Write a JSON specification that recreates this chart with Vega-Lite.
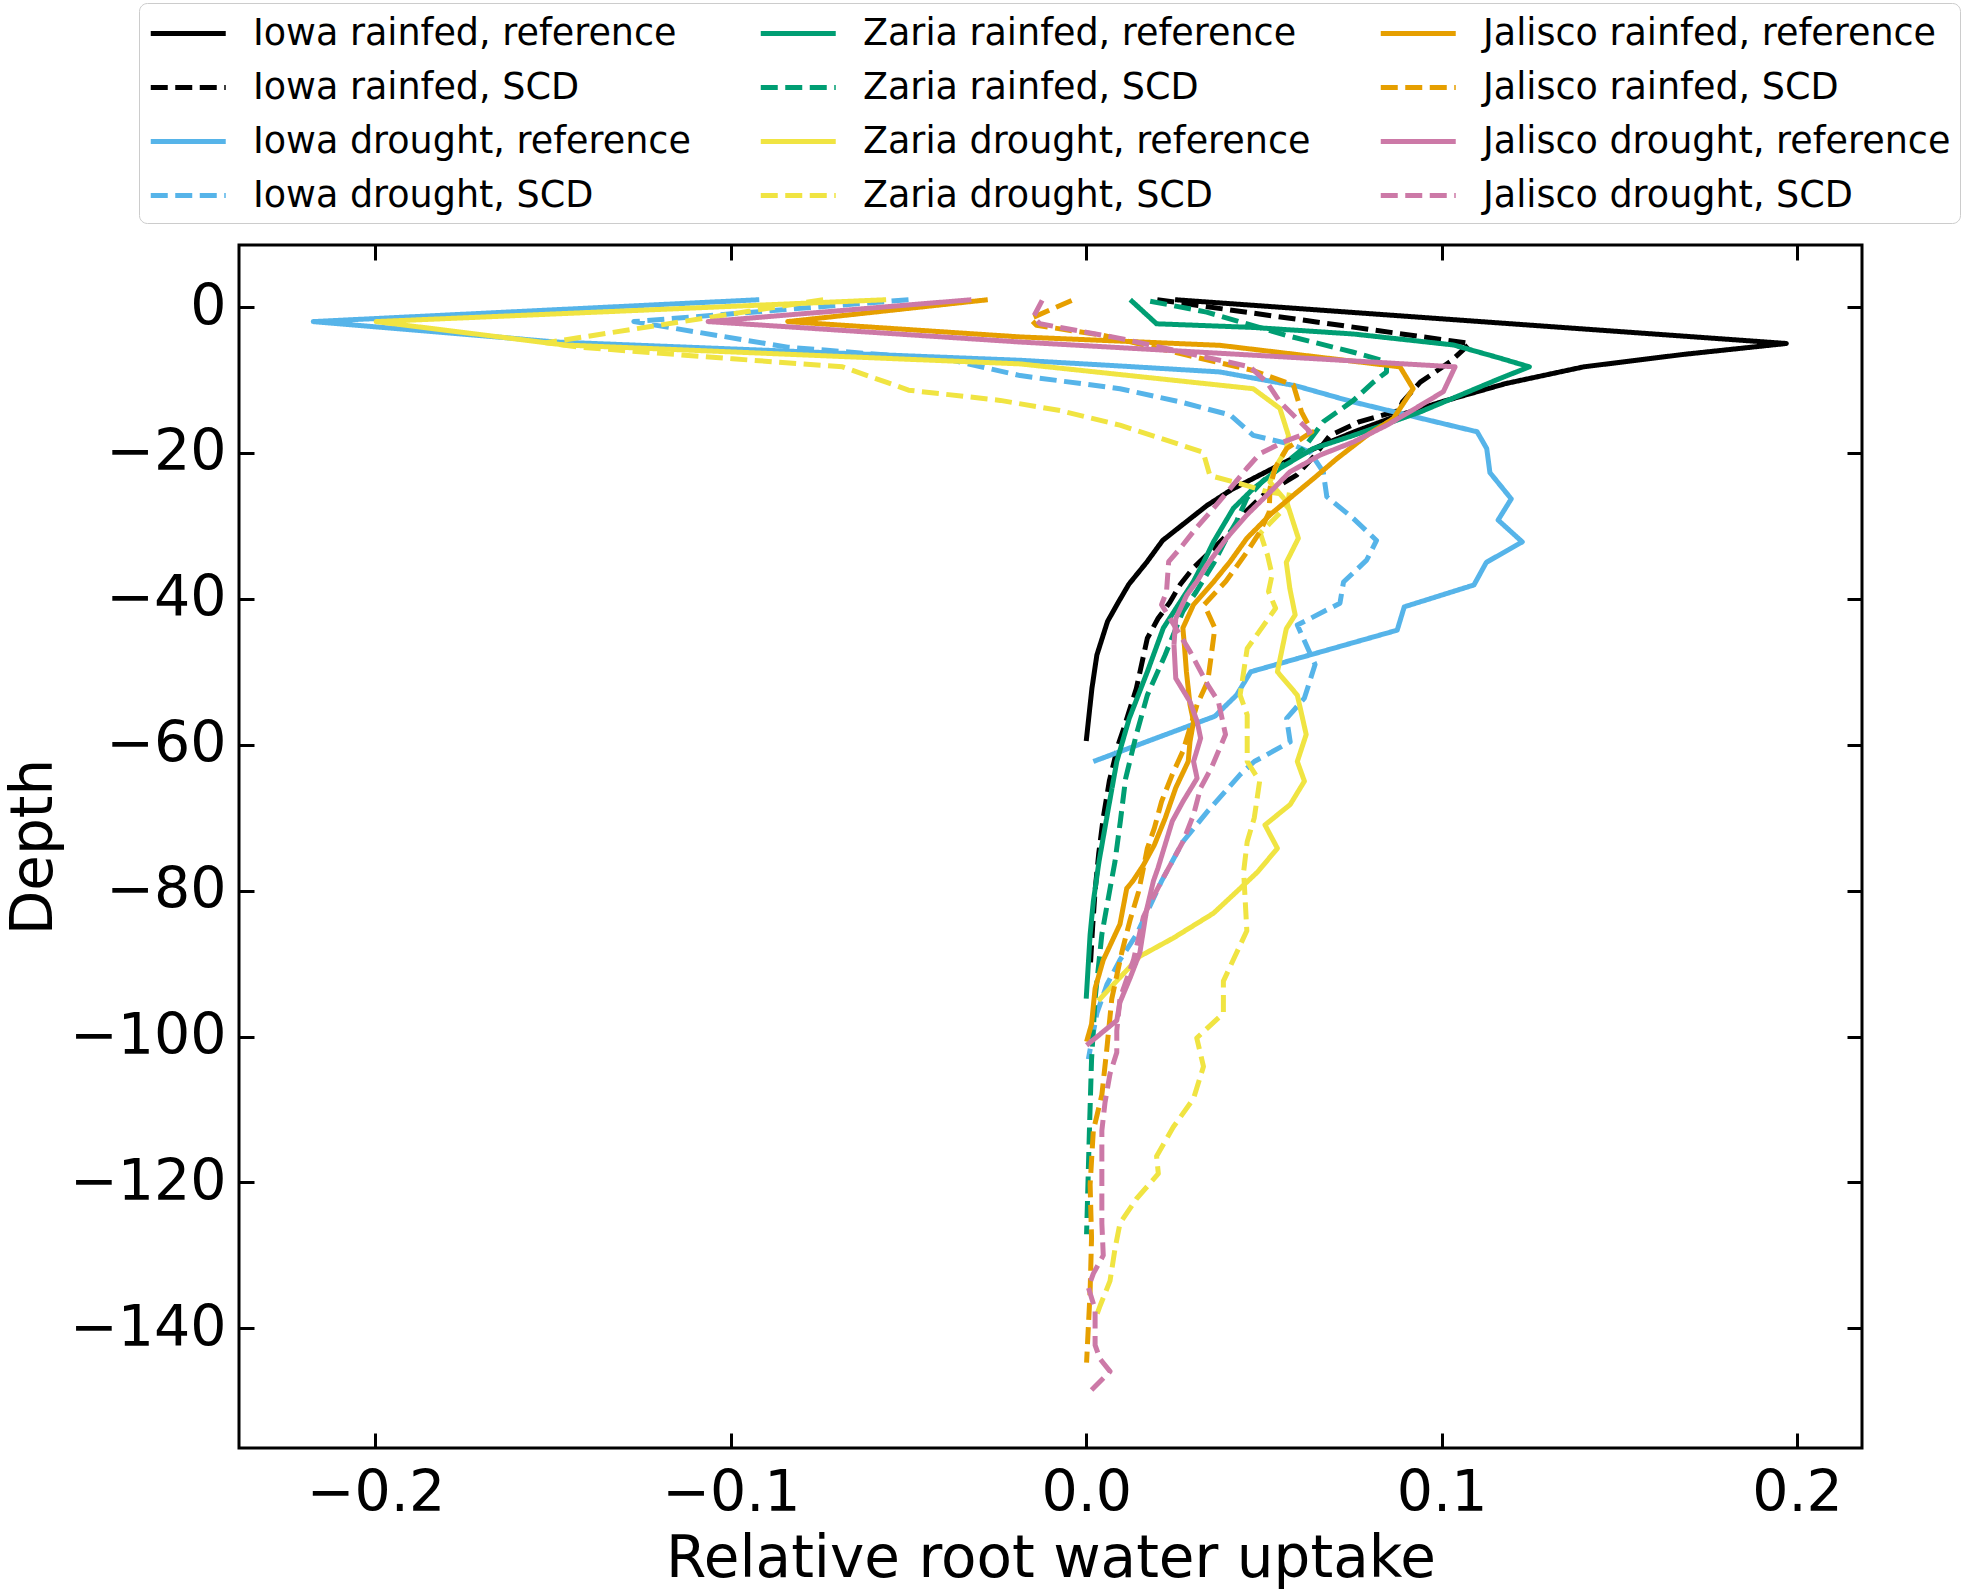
{
  "$schema": "https://vega.github.io/schema/vega-lite/v6.json",
  "width": 1623,
  "height": 1203,
  "autosize": {"type": "none"},
  "padding": {"left": 239, "top": 245, "right": 107, "bottom": 142},
  "background": "white",
  "config": {
    "font": "DejaVu Sans",
    "view": {"stroke": "black", "strokeWidth": 3},
    "axis": {
      "grid": false, "domain": false,
      "tickColor": "black", "tickWidth": 3, "tickSize": -15,
      "labelFont": "DejaVu Sans", "labelFontSize": 57, "labelColor": "black",
      "titleFont": "DejaVu Sans", "titleFontSize": 58, "titleFontWeight": "normal", "titleColor": "black"
    },
    "legend": {
      "orient": "none", "legendX": -100, "legendY": -242,
      "columns": 3, "symbolType": "M-1,0H3", "symbolSize": 1406, "symbolStrokeWidth": 5,
      "labelFont": "DejaVu Sans", "labelFontSize": 36.5, "labelColor": "black", "labelLimit": 0,
      "labelOffset": 62, "columnPadding": 59, "rowPadding": 14, "padding": 9,
      "fillColor": "white", "strokeColor": "#cccccc", "cornerRadius": 8
    }
  },
  "data": {"values": [
    {"s":"Iowa rainfed, reference","i":0,"x":0.025,"y":1},
    {"s":"Iowa rainfed, reference","i":1,"x":0.197,"y":-5},
    {"s":"Iowa rainfed, reference","i":2,"x":0.168,"y":-6.5},
    {"s":"Iowa rainfed, reference","i":3,"x":0.140,"y":-8.2},
    {"s":"Iowa rainfed, reference","i":4,"x":0.118,"y":-10.5},
    {"s":"Iowa rainfed, reference","i":5,"x":0.100,"y":-13},
    {"s":"Iowa rainfed, reference","i":6,"x":0.087,"y":-15},
    {"s":"Iowa rainfed, reference","i":7,"x":0.076,"y":-17},
    {"s":"Iowa rainfed, reference","i":8,"x":0.066,"y":-19},
    {"s":"Iowa rainfed, reference","i":9,"x":0.057,"y":-21},
    {"s":"Iowa rainfed, reference","i":10,"x":0.049,"y":-23},
    {"s":"Iowa rainfed, reference","i":11,"x":0.041,"y":-25},
    {"s":"Iowa rainfed, reference","i":12,"x":0.034,"y":-27.2},
    {"s":"Iowa rainfed, reference","i":13,"x":0.028,"y":-29.5},
    {"s":"Iowa rainfed, reference","i":14,"x":0.0215,"y":-32},
    {"s":"Iowa rainfed, reference","i":15,"x":0.017,"y":-35},
    {"s":"Iowa rainfed, reference","i":16,"x":0.012,"y":-38},
    {"s":"Iowa rainfed, reference","i":17,"x":0.009,"y":-40.5},
    {"s":"Iowa rainfed, reference","i":18,"x":0.006,"y":-43.1},
    {"s":"Iowa rainfed, reference","i":19,"x":0.003,"y":-47.7},
    {"s":"Iowa rainfed, reference","i":20,"x":0.0016,"y":-52.3},
    {"s":"Iowa rainfed, reference","i":21,"x":0.0006,"y":-56.8},
    {"s":"Iowa rainfed, reference","i":22,"x":0.0,"y":-59.5},

    {"s":"Iowa rainfed, SCD","i":0,"x":0.02,"y":1},
    {"s":"Iowa rainfed, SCD","i":1,"x":0.108,"y":-5},
    {"s":"Iowa rainfed, SCD","i":2,"x":0.1024,"y":-7.5},
    {"s":"Iowa rainfed, SCD","i":3,"x":0.094,"y":-10.3},
    {"s":"Iowa rainfed, SCD","i":4,"x":0.089,"y":-13},
    {"s":"Iowa rainfed, SCD","i":5,"x":0.088,"y":-14.2},
    {"s":"Iowa rainfed, SCD","i":6,"x":0.077,"y":-15.7},
    {"s":"Iowa rainfed, SCD","i":7,"x":0.0686,"y":-17.6},
    {"s":"Iowa rainfed, SCD","i":8,"x":0.064,"y":-20.5},
    {"s":"Iowa rainfed, SCD","i":9,"x":0.0593,"y":-23},
    {"s":"Iowa rainfed, SCD","i":10,"x":0.0498,"y":-25.8},
    {"s":"Iowa rainfed, SCD","i":11,"x":0.045,"y":-28},
    {"s":"Iowa rainfed, SCD","i":12,"x":0.0414,"y":-30.4},
    {"s":"Iowa rainfed, SCD","i":13,"x":0.0358,"y":-33.1},
    {"s":"Iowa rainfed, SCD","i":14,"x":0.0301,"y":-35.8},
    {"s":"Iowa rainfed, SCD","i":15,"x":0.0265,"y":-38},
    {"s":"Iowa rainfed, SCD","i":16,"x":0.0235,"y":-40.5},
    {"s":"Iowa rainfed, SCD","i":17,"x":0.0202,"y":-42.7},
    {"s":"Iowa rainfed, SCD","i":18,"x":0.0172,"y":-45.4},
    {"s":"Iowa rainfed, SCD","i":19,"x":0.0141,"y":-52.3},
    {"s":"Iowa rainfed, SCD","i":20,"x":0.0106,"y":-57.7},
    {"s":"Iowa rainfed, SCD","i":21,"x":0.009,"y":-60},
    {"s":"Iowa rainfed, SCD","i":22,"x":0.0065,"y":-65},
    {"s":"Iowa rainfed, SCD","i":23,"x":0.0048,"y":-70},
    {"s":"Iowa rainfed, SCD","i":24,"x":0.0035,"y":-75},
    {"s":"Iowa rainfed, SCD","i":25,"x":0.0025,"y":-80},
    {"s":"Iowa rainfed, SCD","i":26,"x":0.0018,"y":-85},
    {"s":"Iowa rainfed, SCD","i":27,"x":0.0012,"y":-90},

    {"s":"Iowa drought, reference","i":0,"x":-0.092,"y":1},
    {"s":"Iowa drought, reference","i":1,"x":-0.2175,"y":-2},
    {"s":"Iowa drought, reference","i":2,"x":-0.149,"y":-4.8},
    {"s":"Iowa drought, reference","i":3,"x":-0.0186,"y":-7.3},
    {"s":"Iowa drought, reference","i":4,"x":0.0066,"y":-8.0},
    {"s":"Iowa drought, reference","i":5,"x":0.0376,"y":-8.9},
    {"s":"Iowa drought, reference","i":6,"x":0.059,"y":-10.8},
    {"s":"Iowa drought, reference","i":7,"x":0.075,"y":-13},
    {"s":"Iowa drought, reference","i":8,"x":0.092,"y":-15},
    {"s":"Iowa drought, reference","i":9,"x":0.110,"y":-17.1},
    {"s":"Iowa drought, reference","i":10,"x":0.1127,"y":-19.4},
    {"s":"Iowa drought, reference","i":11,"x":0.1136,"y":-22.7},
    {"s":"Iowa drought, reference","i":12,"x":0.1196,"y":-26.3},
    {"s":"Iowa drought, reference","i":13,"x":0.1159,"y":-29.2},
    {"s":"Iowa drought, reference","i":14,"x":0.1227,"y":-32.2},
    {"s":"Iowa drought, reference","i":15,"x":0.1126,"y":-35},
    {"s":"Iowa drought, reference","i":16,"x":0.1091,"y":-38.1},
    {"s":"Iowa drought, reference","i":17,"x":0.0895,"y":-41.1},
    {"s":"Iowa drought, reference","i":18,"x":0.0875,"y":-44.3},
    {"s":"Iowa drought, reference","i":19,"x":0.0463,"y":-50},
    {"s":"Iowa drought, reference","i":20,"x":0.0423,"y":-53.2},
    {"s":"Iowa drought, reference","i":21,"x":0.0362,"y":-56.1},
    {"s":"Iowa drought, reference","i":22,"x":0.002,"y":-62.3},

    {"s":"Iowa drought, SCD","i":0,"x":-0.050,"y":1},
    {"s":"Iowa drought, SCD","i":1,"x":-0.1273,"y":-2},
    {"s":"Iowa drought, SCD","i":2,"x":-0.084,"y":-5.5},
    {"s":"Iowa drought, SCD","i":3,"x":-0.0377,"y":-7.3},
    {"s":"Iowa drought, SCD","i":4,"x":-0.0186,"y":-9.4},
    {"s":"Iowa drought, SCD","i":5,"x":0.0095,"y":-11.2},
    {"s":"Iowa drought, SCD","i":6,"x":0.0264,"y":-13},
    {"s":"Iowa drought, SCD","i":7,"x":0.0405,"y":-14.8},
    {"s":"Iowa drought, SCD","i":8,"x":0.047,"y":-17.6},
    {"s":"Iowa drought, SCD","i":9,"x":0.0583,"y":-18.9},
    {"s":"Iowa drought, SCD","i":10,"x":0.063,"y":-19.9},
    {"s":"Iowa drought, SCD","i":11,"x":0.0667,"y":-22.6},
    {"s":"Iowa drought, SCD","i":12,"x":0.0677,"y":-26},
    {"s":"Iowa drought, SCD","i":13,"x":0.0752,"y":-29},
    {"s":"Iowa drought, SCD","i":14,"x":0.0817,"y":-32},
    {"s":"Iowa drought, SCD","i":15,"x":0.0789,"y":-34.7},
    {"s":"Iowa drought, SCD","i":16,"x":0.0724,"y":-37.7},
    {"s":"Iowa drought, SCD","i":17,"x":0.0714,"y":-40.6},
    {"s":"Iowa drought, SCD","i":18,"x":0.0594,"y":-43.6},
    {"s":"Iowa drought, SCD","i":19,"x":0.0644,"y":-49},
    {"s":"Iowa drought, SCD","i":20,"x":0.0614,"y":-53.6},
    {"s":"Iowa drought, SCD","i":21,"x":0.0564,"y":-56.4},
    {"s":"Iowa drought, SCD","i":22,"x":0.0574,"y":-59.6},
    {"s":"Iowa drought, SCD","i":23,"x":0.0473,"y":-62.3},
    {"s":"Iowa drought, SCD","i":24,"x":0.0433,"y":-64.1},
    {"s":"Iowa drought, SCD","i":25,"x":0.0342,"y":-69.1},
    {"s":"Iowa drought, SCD","i":26,"x":0.0272,"y":-73.3},
    {"s":"Iowa drought, SCD","i":27,"x":0.0212,"y":-78.7},
    {"s":"Iowa drought, SCD","i":28,"x":0.0142,"y":-86},
    {"s":"Iowa drought, SCD","i":29,"x":0.0095,"y":-89.5},
    {"s":"Iowa drought, SCD","i":30,"x":0.0058,"y":-92.9},
    {"s":"Iowa drought, SCD","i":31,"x":0.003,"y":-96.8},
    {"s":"Iowa drought, SCD","i":32,"x":0.0006,"y":-103.1},

    {"s":"Zaria rainfed, reference","i":0,"x":0.0124,"y":1},
    {"s":"Zaria rainfed, reference","i":1,"x":0.0198,"y":-2.3},
    {"s":"Zaria rainfed, reference","i":2,"x":0.047,"y":-2.8},
    {"s":"Zaria rainfed, reference","i":3,"x":0.0752,"y":-3.7},
    {"s":"Zaria rainfed, reference","i":4,"x":0.1033,"y":-5.2},
    {"s":"Zaria rainfed, reference","i":5,"x":0.1164,"y":-7},
    {"s":"Zaria rainfed, reference","i":6,"x":0.1247,"y":-8.2},
    {"s":"Zaria rainfed, reference","i":7,"x":0.1164,"y":-9.8},
    {"s":"Zaria rainfed, reference","i":8,"x":0.0939,"y":-14.4},
    {"s":"Zaria rainfed, reference","i":9,"x":0.0752,"y":-17.6},
    {"s":"Zaria rainfed, reference","i":10,"x":0.0639,"y":-19.4},
    {"s":"Zaria rainfed, reference","i":11,"x":0.0545,"y":-22.1},
    {"s":"Zaria rainfed, reference","i":12,"x":0.047,"y":-24.9},
    {"s":"Zaria rainfed, reference","i":13,"x":0.0414,"y":-27.6},
    {"s":"Zaria rainfed, reference","i":14,"x":0.0358,"y":-32.2},
    {"s":"Zaria rainfed, reference","i":15,"x":0.033,"y":-35},
    {"s":"Zaria rainfed, reference","i":16,"x":0.0302,"y":-37.6},
    {"s":"Zaria rainfed, reference","i":17,"x":0.0217,"y":-44},
    {"s":"Zaria rainfed, reference","i":18,"x":0.0172,"y":-50},
    {"s":"Zaria rainfed, reference","i":19,"x":0.0121,"y":-56.4},
    {"s":"Zaria rainfed, reference","i":20,"x":0.0086,"y":-62.3},
    {"s":"Zaria rainfed, reference","i":21,"x":0.0061,"y":-69.1},
    {"s":"Zaria rainfed, reference","i":22,"x":0.0036,"y":-76},
    {"s":"Zaria rainfed, reference","i":23,"x":0.002,"y":-81.5},
    {"s":"Zaria rainfed, reference","i":24,"x":0.0011,"y":-86},
    {"s":"Zaria rainfed, reference","i":25,"x":0.0006,"y":-90},
    {"s":"Zaria rainfed, reference","i":26,"x":0.0,"y":-94.8},

    {"s":"Zaria rainfed, SCD","i":0,"x":0.018,"y":0.8},
    {"s":"Zaria rainfed, SCD","i":1,"x":0.0339,"y":-0.7},
    {"s":"Zaria rainfed, SCD","i":2,"x":0.0564,"y":-3.9},
    {"s":"Zaria rainfed, SCD","i":3,"x":0.0752,"y":-6.2},
    {"s":"Zaria rainfed, SCD","i":4,"x":0.0845,"y":-7.5},
    {"s":"Zaria rainfed, SCD","i":5,"x":0.0845,"y":-8.9},
    {"s":"Zaria rainfed, SCD","i":6,"x":0.0808,"y":-10.3},
    {"s":"Zaria rainfed, SCD","i":7,"x":0.0752,"y":-12.8},
    {"s":"Zaria rainfed, SCD","i":8,"x":0.0668,"y":-15.7},
    {"s":"Zaria rainfed, SCD","i":9,"x":0.0611,"y":-19.4},
    {"s":"Zaria rainfed, SCD","i":10,"x":0.0545,"y":-22},
    {"s":"Zaria rainfed, SCD","i":11,"x":0.0498,"y":-23.8},
    {"s":"Zaria rainfed, SCD","i":12,"x":0.0452,"y":-26.2},
    {"s":"Zaria rainfed, SCD","i":13,"x":0.0423,"y":-29.4},
    {"s":"Zaria rainfed, SCD","i":14,"x":0.0395,"y":-31.7},
    {"s":"Zaria rainfed, SCD","i":15,"x":0.036,"y":-35},
    {"s":"Zaria rainfed, SCD","i":16,"x":0.031,"y":-39},
    {"s":"Zaria rainfed, SCD","i":17,"x":0.0272,"y":-41.7},
    {"s":"Zaria rainfed, SCD","i":18,"x":0.0222,"y":-47.7},
    {"s":"Zaria rainfed, SCD","i":19,"x":0.0172,"y":-53.2},
    {"s":"Zaria rainfed, SCD","i":20,"x":0.0141,"y":-58.6},
    {"s":"Zaria rainfed, SCD","i":21,"x":0.0111,"y":-64.6},
    {"s":"Zaria rainfed, SCD","i":22,"x":0.0096,"y":-70.5},
    {"s":"Zaria rainfed, SCD","i":23,"x":0.0081,"y":-76},
    {"s":"Zaria rainfed, SCD","i":24,"x":0.0066,"y":-80},
    {"s":"Zaria rainfed, SCD","i":25,"x":0.0044,"y":-86},
    {"s":"Zaria rainfed, SCD","i":26,"x":0.0025,"y":-94.8},
    {"s":"Zaria rainfed, SCD","i":27,"x":0.0015,"y":-103.2},
    {"s":"Zaria rainfed, SCD","i":28,"x":0.0009,"y":-112.9},
    {"s":"Zaria rainfed, SCD","i":29,"x":0.0001,"y":-127.1},

    {"s":"Zaria drought, reference","i":0,"x":-0.0563,"y":1},
    {"s":"Zaria drought, reference","i":1,"x":-0.1998,"y":-2},
    {"s":"Zaria drought, reference","i":2,"x":-0.147,"y":-5.2},
    {"s":"Zaria drought, reference","i":3,"x":-0.0186,"y":-7.8},
    {"s":"Zaria drought, reference","i":4,"x":0.047,"y":-11.2},
    {"s":"Zaria drought, reference","i":5,"x":0.0545,"y":-13.9},
    {"s":"Zaria drought, reference","i":6,"x":0.0569,"y":-17.6},
    {"s":"Zaria drought, reference","i":7,"x":0.0564,"y":-19.4},
    {"s":"Zaria drought, reference","i":8,"x":0.0536,"y":-21.7},
    {"s":"Zaria drought, reference","i":9,"x":0.0517,"y":-24},
    {"s":"Zaria drought, reference","i":10,"x":0.0564,"y":-26.7},
    {"s":"Zaria drought, reference","i":11,"x":0.0597,"y":-31.7},
    {"s":"Zaria drought, reference","i":12,"x":0.0563,"y":-35},
    {"s":"Zaria drought, reference","i":13,"x":0.0573,"y":-38.6},
    {"s":"Zaria drought, reference","i":14,"x":0.0588,"y":-42.2},
    {"s":"Zaria drought, reference","i":15,"x":0.0563,"y":-44.1},
    {"s":"Zaria drought, reference","i":16,"x":0.0538,"y":-50},
    {"s":"Zaria drought, reference","i":17,"x":0.0594,"y":-53.2},
    {"s":"Zaria drought, reference","i":18,"x":0.0619,"y":-58.6},
    {"s":"Zaria drought, reference","i":19,"x":0.0594,"y":-62.3},
    {"s":"Zaria drought, reference","i":20,"x":0.0614,"y":-65},
    {"s":"Zaria drought, reference","i":21,"x":0.0574,"y":-68.2},
    {"s":"Zaria drought, reference","i":22,"x":0.0503,"y":-71},
    {"s":"Zaria drought, reference","i":23,"x":0.0538,"y":-74.2},
    {"s":"Zaria drought, reference","i":24,"x":0.0483,"y":-77.4},
    {"s":"Zaria drought, reference","i":25,"x":0.0433,"y":-79.7},
    {"s":"Zaria drought, reference","i":26,"x":0.0358,"y":-83.1},
    {"s":"Zaria drought, reference","i":27,"x":0.0245,"y":-86.5},
    {"s":"Zaria drought, reference","i":28,"x":0.0151,"y":-89},
    {"s":"Zaria drought, reference","i":29,"x":0.0095,"y":-91.9},
    {"s":"Zaria drought, reference","i":30,"x":0.0034,"y":-95.1},

    {"s":"Zaria drought, SCD","i":0,"x":-0.074,"y":1},
    {"s":"Zaria drought, SCD","i":1,"x":-0.152,"y":-4.9},
    {"s":"Zaria drought, SCD","i":2,"x":-0.1427,"y":-5.5},
    {"s":"Zaria drought, SCD","i":3,"x":-0.0995,"y":-7.1},
    {"s":"Zaria drought, SCD","i":4,"x":-0.0686,"y":-8.2},
    {"s":"Zaria drought, SCD","i":5,"x":-0.0563,"y":-10.3},
    {"s":"Zaria drought, SCD","i":6,"x":-0.05,"y":-11.4},
    {"s":"Zaria drought, SCD","i":7,"x":-0.0242,"y":-12.8},
    {"s":"Zaria drought, SCD","i":8,"x":-0.0073,"y":-14.2},
    {"s":"Zaria drought, SCD","i":9,"x":0.0095,"y":-16.2},
    {"s":"Zaria drought, SCD","i":10,"x":0.0329,"y":-19.9},
    {"s":"Zaria drought, SCD","i":11,"x":0.0348,"y":-23.1},
    {"s":"Zaria drought, SCD","i":12,"x":0.0433,"y":-24.2},
    {"s":"Zaria drought, SCD","i":13,"x":0.0508,"y":-25.3},
    {"s":"Zaria drought, SCD","i":14,"x":0.0573,"y":-25.8},
    {"s":"Zaria drought, SCD","i":15,"x":0.056,"y":-27.5},
    {"s":"Zaria drought, SCD","i":16,"x":0.049,"y":-31},
    {"s":"Zaria drought, SCD","i":17,"x":0.051,"y":-34},
    {"s":"Zaria drought, SCD","i":18,"x":0.0523,"y":-36.7},
    {"s":"Zaria drought, SCD","i":19,"x":0.0513,"y":-39},
    {"s":"Zaria drought, SCD","i":20,"x":0.0533,"y":-41.3},
    {"s":"Zaria drought, SCD","i":21,"x":0.0453,"y":-46.8},
    {"s":"Zaria drought, SCD","i":22,"x":0.0443,"y":-50},
    {"s":"Zaria drought, SCD","i":23,"x":0.0433,"y":-53.2},
    {"s":"Zaria drought, SCD","i":24,"x":0.0453,"y":-55.9},
    {"s":"Zaria drought, SCD","i":25,"x":0.0453,"y":-62.3},
    {"s":"Zaria drought, SCD","i":26,"x":0.0488,"y":-65},
    {"s":"Zaria drought, SCD","i":27,"x":0.0473,"y":-70},
    {"s":"Zaria drought, SCD","i":28,"x":0.0453,"y":-73.3},
    {"s":"Zaria drought, SCD","i":29,"x":0.0443,"y":-77.4},
    {"s":"Zaria drought, SCD","i":30,"x":0.0452,"y":-85.5},
    {"s":"Zaria drought, SCD","i":31,"x":0.0386,"y":-92.4},
    {"s":"Zaria drought, SCD","i":32,"x":0.0386,"y":-96.8},
    {"s":"Zaria drought, SCD","i":33,"x":0.0311,"y":-100.2},
    {"s":"Zaria drought, SCD","i":34,"x":0.033,"y":-104.1},
    {"s":"Zaria drought, SCD","i":35,"x":0.0302,"y":-108.5},
    {"s":"Zaria drought, SCD","i":36,"x":0.0245,"y":-112.4},
    {"s":"Zaria drought, SCD","i":37,"x":0.0198,"y":-116.4},
    {"s":"Zaria drought, SCD","i":38,"x":0.0203,"y":-118.8},
    {"s":"Zaria drought, SCD","i":39,"x":0.0142,"y":-122.2},
    {"s":"Zaria drought, SCD","i":40,"x":0.0095,"y":-125.6},
    {"s":"Zaria drought, SCD","i":41,"x":0.0081,"y":-129.1},
    {"s":"Zaria drought, SCD","i":42,"x":0.0067,"y":-133.5},
    {"s":"Zaria drought, SCD","i":43,"x":0.0039,"y":-136.9},
    {"s":"Zaria drought, SCD","i":44,"x":0.0025,"y":-138.8},

    {"s":"Jalisco rainfed, reference","i":0,"x":-0.0277,"y":1},
    {"s":"Jalisco rainfed, reference","i":1,"x":-0.084,"y":-2},
    {"s":"Jalisco rainfed, reference","i":2,"x":-0.0186,"y":-4.1},
    {"s":"Jalisco rainfed, reference","i":3,"x":0.0376,"y":-5.25},
    {"s":"Jalisco rainfed, reference","i":4,"x":0.0883,"y":-8.2},
    {"s":"Jalisco rainfed, reference","i":5,"x":0.092,"y":-11.2},
    {"s":"Jalisco rainfed, reference","i":6,"x":0.0864,"y":-15.3},
    {"s":"Jalisco rainfed, reference","i":7,"x":0.079,"y":-17.6},
    {"s":"Jalisco rainfed, reference","i":8,"x":0.0705,"y":-20.8},
    {"s":"Jalisco rainfed, reference","i":9,"x":0.064,"y":-23.5},
    {"s":"Jalisco rainfed, reference","i":10,"x":0.0573,"y":-26.2},
    {"s":"Jalisco rainfed, reference","i":11,"x":0.0517,"y":-28.5},
    {"s":"Jalisco rainfed, reference","i":12,"x":0.0452,"y":-31.7},
    {"s":"Jalisco rainfed, reference","i":13,"x":0.0405,"y":-34.9},
    {"s":"Jalisco rainfed, reference","i":14,"x":0.0358,"y":-37.7},
    {"s":"Jalisco rainfed, reference","i":15,"x":0.0302,"y":-40.8},
    {"s":"Jalisco rainfed, reference","i":16,"x":0.0272,"y":-44},
    {"s":"Jalisco rainfed, reference","i":17,"x":0.0277,"y":-46.8},
    {"s":"Jalisco rainfed, reference","i":18,"x":0.0282,"y":-50},
    {"s":"Jalisco rainfed, reference","i":19,"x":0.0292,"y":-54.5},
    {"s":"Jalisco rainfed, reference","i":20,"x":0.0302,"y":-56.8},
    {"s":"Jalisco rainfed, reference","i":21,"x":0.0292,"y":-59.6},
    {"s":"Jalisco rainfed, reference","i":22,"x":0.0287,"y":-62.3},
    {"s":"Jalisco rainfed, reference","i":23,"x":0.0252,"y":-65.9},
    {"s":"Jalisco rainfed, reference","i":24,"x":0.0222,"y":-70.1},
    {"s":"Jalisco rainfed, reference","i":25,"x":0.0192,"y":-73.7},
    {"s":"Jalisco rainfed, reference","i":26,"x":0.0161,"y":-76.5},
    {"s":"Jalisco rainfed, reference","i":27,"x":0.0131,"y":-78.7},
    {"s":"Jalisco rainfed, reference","i":28,"x":0.0114,"y":-79.7},
    {"s":"Jalisco rainfed, reference","i":29,"x":0.0095,"y":-84.6},
    {"s":"Jalisco rainfed, reference","i":30,"x":0.0048,"y":-89.5},
    {"s":"Jalisco rainfed, reference","i":31,"x":0.0025,"y":-93.4},
    {"s":"Jalisco rainfed, reference","i":32,"x":0.0015,"y":-98.3},
    {"s":"Jalisco rainfed, reference","i":33,"x":0.0001,"y":-100.7},

    {"s":"Jalisco rainfed, SCD","i":0,"x":-0.0041,"y":0.9},
    {"s":"Jalisco rainfed, SCD","i":1,"x":-0.0158,"y":-1.6},
    {"s":"Jalisco rainfed, SCD","i":2,"x":-0.014,"y":-2.5},
    {"s":"Jalisco rainfed, SCD","i":3,"x":0.0048,"y":-3.9},
    {"s":"Jalisco rainfed, SCD","i":4,"x":0.0283,"y":-6.6},
    {"s":"Jalisco rainfed, SCD","i":5,"x":0.047,"y":-8.7},
    {"s":"Jalisco rainfed, SCD","i":6,"x":0.0583,"y":-10.7},
    {"s":"Jalisco rainfed, SCD","i":7,"x":0.0606,"y":-14.4},
    {"s":"Jalisco rainfed, SCD","i":8,"x":0.0635,"y":-17.1},
    {"s":"Jalisco rainfed, SCD","i":9,"x":0.0564,"y":-19.4},
    {"s":"Jalisco rainfed, SCD","i":10,"x":0.0531,"y":-22.1},
    {"s":"Jalisco rainfed, SCD","i":11,"x":0.0517,"y":-24.9},
    {"s":"Jalisco rainfed, SCD","i":12,"x":0.0515,"y":-28.1},
    {"s":"Jalisco rainfed, SCD","i":13,"x":0.0489,"y":-30.8},
    {"s":"Jalisco rainfed, SCD","i":14,"x":0.0452,"y":-33.6},
    {"s":"Jalisco rainfed, SCD","i":15,"x":0.0393,"y":-37.6},
    {"s":"Jalisco rainfed, SCD","i":16,"x":0.0332,"y":-40.8},
    {"s":"Jalisco rainfed, SCD","i":17,"x":0.0362,"y":-44},
    {"s":"Jalisco rainfed, SCD","i":18,"x":0.0352,"y":-47.7},
    {"s":"Jalisco rainfed, SCD","i":19,"x":0.0342,"y":-51.3},
    {"s":"Jalisco rainfed, SCD","i":20,"x":0.0312,"y":-54.5},
    {"s":"Jalisco rainfed, SCD","i":21,"x":0.0292,"y":-57.7},
    {"s":"Jalisco rainfed, SCD","i":22,"x":0.0272,"y":-60.9},
    {"s":"Jalisco rainfed, SCD","i":23,"x":0.0242,"y":-64.1},
    {"s":"Jalisco rainfed, SCD","i":24,"x":0.0212,"y":-67.8},
    {"s":"Jalisco rainfed, SCD","i":25,"x":0.0192,"y":-71.4},
    {"s":"Jalisco rainfed, SCD","i":26,"x":0.0172,"y":-74.2},
    {"s":"Jalisco rainfed, SCD","i":27,"x":0.0161,"y":-76.9},
    {"s":"Jalisco rainfed, SCD","i":28,"x":0.0147,"y":-80.2},
    {"s":"Jalisco rainfed, SCD","i":29,"x":0.0123,"y":-84.1},
    {"s":"Jalisco rainfed, SCD","i":30,"x":0.01,"y":-88.5},
    {"s":"Jalisco rainfed, SCD","i":31,"x":0.0072,"y":-94.8},
    {"s":"Jalisco rainfed, SCD","i":32,"x":0.0058,"y":-101.7},
    {"s":"Jalisco rainfed, SCD","i":33,"x":0.0044,"y":-108},
    {"s":"Jalisco rainfed, SCD","i":34,"x":0.002,"y":-112.9},
    {"s":"Jalisco rainfed, SCD","i":35,"x":0.0011,"y":-120.3},
    {"s":"Jalisco rainfed, SCD","i":36,"x":0.0015,"y":-127.6},
    {"s":"Jalisco rainfed, SCD","i":37,"x":0.0011,"y":-134.9},
    {"s":"Jalisco rainfed, SCD","i":38,"x":0.0001,"y":-144.7},

    {"s":"Jalisco drought, reference","i":0,"x":-0.0323,"y":1},
    {"s":"Jalisco drought, reference","i":1,"x":-0.1064,"y":-2},
    {"s":"Jalisco drought, reference","i":2,"x":-0.0186,"y":-4.8},
    {"s":"Jalisco drought, reference","i":3,"x":0.047,"y":-6.6},
    {"s":"Jalisco drought, reference","i":4,"x":0.1038,"y":-8.2},
    {"s":"Jalisco drought, reference","i":5,"x":0.1005,"y":-11.6},
    {"s":"Jalisco drought, reference","i":6,"x":0.094,"y":-13.5},
    {"s":"Jalisco drought, reference","i":7,"x":0.0846,"y":-16.2},
    {"s":"Jalisco drought, reference","i":8,"x":0.0752,"y":-18.5},
    {"s":"Jalisco drought, reference","i":9,"x":0.0658,"y":-20.3},
    {"s":"Jalisco drought, reference","i":10,"x":0.0573,"y":-22.6},
    {"s":"Jalisco drought, reference","i":11,"x":0.0527,"y":-24.9},
    {"s":"Jalisco drought, reference","i":12,"x":0.0452,"y":-28.5},
    {"s":"Jalisco drought, reference","i":13,"x":0.0395,"y":-31.7},
    {"s":"Jalisco drought, reference","i":14,"x":0.0339,"y":-35.4},
    {"s":"Jalisco drought, reference","i":15,"x":0.0312,"y":-37.6},
    {"s":"Jalisco drought, reference","i":16,"x":0.0283,"y":-39.5},
    {"s":"Jalisco drought, reference","i":17,"x":0.0252,"y":-42.7},
    {"s":"Jalisco drought, reference","i":18,"x":0.0247,"y":-46.3},
    {"s":"Jalisco drought, reference","i":19,"x":0.0252,"y":-50.9},
    {"s":"Jalisco drought, reference","i":20,"x":0.0292,"y":-54.1},
    {"s":"Jalisco drought, reference","i":21,"x":0.0312,"y":-56.8},
    {"s":"Jalisco drought, reference","i":22,"x":0.0322,"y":-59.1},
    {"s":"Jalisco drought, reference","i":23,"x":0.0302,"y":-62.3},
    {"s":"Jalisco drought, reference","i":24,"x":0.0312,"y":-64.6},
    {"s":"Jalisco drought, reference","i":25,"x":0.0272,"y":-67.8},
    {"s":"Jalisco drought, reference","i":26,"x":0.0242,"y":-70.5},
    {"s":"Jalisco drought, reference","i":27,"x":0.0222,"y":-73.7},
    {"s":"Jalisco drought, reference","i":28,"x":0.0202,"y":-76.9},
    {"s":"Jalisco drought, reference","i":29,"x":0.0189,"y":-78.7},
    {"s":"Jalisco drought, reference","i":30,"x":0.017,"y":-82.6},
    {"s":"Jalisco drought, reference","i":31,"x":0.0151,"y":-88.5},
    {"s":"Jalisco drought, reference","i":32,"x":0.0124,"y":-91.9},
    {"s":"Jalisco drought, reference","i":33,"x":0.0095,"y":-95.3},
    {"s":"Jalisco drought, reference","i":34,"x":0.0086,"y":-97.8},
    {"s":"Jalisco drought, reference","i":35,"x":0.0001,"y":-101.2},

    {"s":"Jalisco drought, SCD","i":0,"x":-0.0124,"y":0.9},
    {"s":"Jalisco drought, SCD","i":1,"x":-0.0149,"y":-1.4},
    {"s":"Jalisco drought, SCD","i":2,"x":-0.013,"y":-2.3},
    {"s":"Jalisco drought, SCD","i":3,"x":0.0095,"y":-4.3},
    {"s":"Jalisco drought, SCD","i":4,"x":0.0461,"y":-8.2},
    {"s":"Jalisco drought, SCD","i":5,"x":0.0508,"y":-10.3},
    {"s":"Jalisco drought, SCD","i":6,"x":0.0545,"y":-13},
    {"s":"Jalisco drought, SCD","i":7,"x":0.063,"y":-17.1},
    {"s":"Jalisco drought, SCD","i":8,"x":0.0555,"y":-18.5},
    {"s":"Jalisco drought, SCD","i":9,"x":0.0489,"y":-20.1},
    {"s":"Jalisco drought, SCD","i":10,"x":0.0452,"y":-22.1},
    {"s":"Jalisco drought, SCD","i":11,"x":0.0405,"y":-24.9},
    {"s":"Jalisco drought, SCD","i":12,"x":0.0358,"y":-27.6},
    {"s":"Jalisco drought, SCD","i":13,"x":0.0311,"y":-30.2},
    {"s":"Jalisco drought, SCD","i":14,"x":0.0264,"y":-33.1},
    {"s":"Jalisco drought, SCD","i":15,"x":0.0232,"y":-34.9},
    {"s":"Jalisco drought, SCD","i":16,"x":0.0226,"y":-39},
    {"s":"Jalisco drought, SCD","i":17,"x":0.0212,"y":-40.8},
    {"s":"Jalisco drought, SCD","i":18,"x":0.0252,"y":-44},
    {"s":"Jalisco drought, SCD","i":19,"x":0.0292,"y":-47.2},
    {"s":"Jalisco drought, SCD","i":20,"x":0.0342,"y":-51.8},
    {"s":"Jalisco drought, SCD","i":21,"x":0.0372,"y":-54.1},
    {"s":"Jalisco drought, SCD","i":22,"x":0.0392,"y":-58.6},
    {"s":"Jalisco drought, SCD","i":23,"x":0.0372,"y":-60.9},
    {"s":"Jalisco drought, SCD","i":24,"x":0.0352,"y":-63.2},
    {"s":"Jalisco drought, SCD","i":25,"x":0.0322,"y":-65.9},
    {"s":"Jalisco drought, SCD","i":26,"x":0.0302,"y":-69.6},
    {"s":"Jalisco drought, SCD","i":27,"x":0.0272,"y":-73.3},
    {"s":"Jalisco drought, SCD","i":28,"x":0.0212,"y":-78.7},
    {"s":"Jalisco drought, SCD","i":29,"x":0.0182,"y":-81.5},
    {"s":"Jalisco drought, SCD","i":30,"x":0.0161,"y":-83.6},
    {"s":"Jalisco drought, SCD","i":31,"x":0.0133,"y":-89.5},
    {"s":"Jalisco drought, SCD","i":32,"x":0.0095,"y":-94.8},
    {"s":"Jalisco drought, SCD","i":33,"x":0.0086,"y":-99.2},
    {"s":"Jalisco drought, SCD","i":34,"x":0.0086,"y":-102.2},
    {"s":"Jalisco drought, SCD","i":35,"x":0.0067,"y":-105.1},
    {"s":"Jalisco drought, SCD","i":36,"x":0.0053,"y":-109},
    {"s":"Jalisco drought, SCD","i":37,"x":0.0044,"y":-112.9},
    {"s":"Jalisco drought, SCD","i":38,"x":0.0044,"y":-120.3},
    {"s":"Jalisco drought, SCD","i":39,"x":0.0044,"y":-125.6},
    {"s":"Jalisco drought, SCD","i":40,"x":0.0048,"y":-130},
    {"s":"Jalisco drought, SCD","i":41,"x":0.002,"y":-132.5},
    {"s":"Jalisco drought, SCD","i":42,"x":0.0006,"y":-134.4},
    {"s":"Jalisco drought, SCD","i":43,"x":0.0025,"y":-137.4},
    {"s":"Jalisco drought, SCD","i":44,"x":0.0025,"y":-142.3},
    {"s":"Jalisco drought, SCD","i":45,"x":0.0039,"y":-144.2},
    {"s":"Jalisco drought, SCD","i":46,"x":0.0067,"y":-145.9},
    {"s":"Jalisco drought, SCD","i":47,"x":0.0006,"y":-148.9}
  ]},
  "layer": [
    {
      "mark": {"type": "line", "strokeWidth": 5, "strokeJoin": "round", "strokeCap": "butt"},
      "encoding": {
        "x": {"field": "x", "type": "quantitative",
          "scale": {"domain": [-0.2384, 0.2183], "nice": false, "zero": false},
          "axis": {"orient": "bottom", "values": [-0.2, -0.1, 0, 0.1, 0.2], "format": ".1f", "labelPadding": 32, "title": "Relative root water uptake", "titlePadding": 9}},
        "y": {"field": "y", "type": "quantitative",
          "scale": {"domain": [-156.4, 8.5], "nice": false, "zero": false},
          "axis": {"orient": "left", "values": [-140, -120, -100, -80, -60, -40, -20, 0], "format": "d", "labelPadding": 28, "title": "Depth", "titlePadding": 6}},
        "color": {"field": "s", "type": "nominal", "title": null,
          "scale": {
            "domain": ["Iowa rainfed, reference", "Iowa rainfed, SCD", "Iowa drought, reference", "Iowa drought, SCD",
                       "Zaria rainfed, reference", "Zaria rainfed, SCD", "Zaria drought, reference", "Zaria drought, SCD",
                       "Jalisco rainfed, reference", "Jalisco rainfed, SCD", "Jalisco drought, reference", "Jalisco drought, SCD"],
            "range": ["#000000", "#000000", "#56B4E9", "#56B4E9",
                      "#009E73", "#009E73", "#F0E442", "#F0E442",
                      "#E69F00", "#E69F00", "#CC79A7", "#CC79A7"]}},
        "strokeDash": {"field": "s", "type": "nominal", "title": null,
          "scale": {
            "domain": ["Iowa rainfed, reference", "Iowa rainfed, SCD", "Iowa drought, reference", "Iowa drought, SCD",
                       "Zaria rainfed, reference", "Zaria rainfed, SCD", "Zaria drought, reference", "Zaria drought, SCD",
                       "Jalisco rainfed, reference", "Jalisco rainfed, SCD", "Jalisco drought, reference", "Jalisco drought, SCD"],
            "range": [[1, 0], [17, 7.5], [1, 0], [17, 7.5],
                      [1, 0], [17, 7.5], [1, 0], [17, 7.5],
                      [1, 0], [17, 7.5], [1, 0], [17, 7.5]]}},
        "order": {"field": "i", "type": "quantitative"}
      }
    },
    {
      "mark": {"type": "line", "opacity": 0},
      "encoding": {
        "x": {"field": "x", "type": "quantitative",
          "axis": {"orient": "top", "values": [-0.2, -0.1, 0, 0.1, 0.2], "labels": false, "title": null}},
        "y": {"field": "y", "type": "quantitative",
          "axis": {"orient": "right", "values": [-140, -120, -100, -80, -60, -40, -20, 0], "labels": false, "title": null}},
        "detail": {"field": "s", "type": "nominal"},
        "order": {"field": "i", "type": "quantitative"}
      }
    }
  ],
  "resolve": {"axis": {"x": "independent", "y": "independent"}}
}
